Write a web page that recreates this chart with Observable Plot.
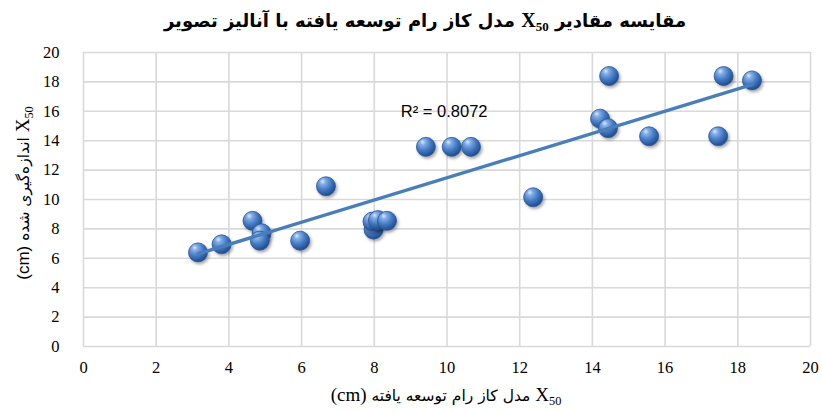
<!DOCTYPE html>
<html>
<head>
<meta charset="utf-8">
<script src="https://cdn.jsdelivr.net/npm/d3@7"></script>
<script src="https://cdn.jsdelivr.net/npm/@observablehq/plot@0.6"></script>
<style>
  html, body { margin: 0; padding: 0; background: #fff; }
  #wrap { position: relative; width: 822px; height: 412px; overflow: hidden; background: #fff; }
  #title { height: 40px; line-height: 40px; padding-left: 28px; text-align: center; direction: rtl;
           font-family: "DejaVu Sans", sans-serif; font-weight: bold; font-size: 18px; color: #000; white-space: nowrap; }
  #title .lat { font-size: 20px; }
  .lat { font-family: "Liberation Serif", serif; }
  .lat sub { font-size: 0.65em; vertical-align: -0.3em; }
  .axlab { position: absolute; text-align: center; direction: rtl; white-space: nowrap; color: #000;
           font-family: "DejaVu Sans", sans-serif; font-size: 15.5px; }
  .axlab .lat { font-size: 19px; }
  #xlab { left: 296px; width: 300px; top: 381px; height: 28px; line-height: 28px; }
  #ylab { left: -127px; top: 179px; width: 300px; height: 28px; line-height: 28px; transform: rotate(-90deg); }
</style>
</head>
<body>
<div id="wrap">
  <div id="title">مقایسه مقادیر <span class="lat">X<sub>50</sub></span> مدل کاز رام توسعه یافته با آنالیز تصویر</div>
  <div id="chart"></div>
  <div id="xlab" class="axlab"><span class="lat">X<sub>50</sub></span> مدل کاز رام توسعه یافته <span class="lat">(cm)</span></div>
  <div id="ylab" class="axlab"><span class="lat">X<sub>50</sub></span> اندازه‌گیری شده <span class="lat" style="font-family:'Liberation Sans',sans-serif;font-size:17px">(cm)</span></div>
</div>
<script>
// X50 from the developed Kuz-Ram model (cm)
const modelX50 = [3.15, 3.80, 4.65, 4.90, 4.85, 5.96, 6.67, 7.98, 7.95, 8.10, 8.35, 9.42, 10.13, 10.66, 12.37, 14.21, 14.43, 14.46, 15.56, 17.46, 17.61, 18.39];
// Measured X50 (cm)
const measuredX50 = [6.40, 6.95, 8.55, 7.70, 7.20, 7.20, 10.90, 7.95, 8.50, 8.60, 8.55, 13.58, 13.58, 13.58, 10.15, 15.50, 14.85, 18.40, 14.30, 14.30, 18.40, 18.10];
const xTicks = [0, 2, 4, 6, 8, 10, 12, 14, 16, 18, 20];
const yTicks = [0, 2, 4, 6, 8, 10, 12, 14, 16, 18, 20];
const r2Text = ["R² = 0.8072"];
const r2Anchor = [{x: 8.73, y: 15.94}];

const data = modelX50.map((x, i) => ({x, y: measuredX50[i]}));

const plot = Plot.plot({
  width: 822,
  height: 372,
  marginTop: 12,
  marginBottom: 66,
  marginLeft: 83,
  marginRight: 12,
  x: {domain: [0, 20]},
  y: {domain: [0, 20]},
  style: {fontSize: "16px", color: "#000", background: "#fff"},
  marks: [
    Plot.gridX(xTicks, {stroke: "#d9d9d9", strokeOpacity: 1, strokeWidth: 1.6}),
    Plot.gridY(yTicks, {stroke: "#d9d9d9", strokeOpacity: 1, strokeWidth: 1.6}),
    Plot.axisX(xTicks, {tickSize: 0, tickPadding: 15, label: null, fontSize: 16.5, fill: "#000"}),
    Plot.axisY(yTicks, {tickSize: 0, tickPadding: 24, label: null, fontSize: 16.5, fill: "#000"}),
    Plot.dot(data, {x: "x", y: "y", r: 9.5, fill: "url(#ball)", stroke: "#2b5797", strokeWidth: 0.8}),
    Plot.linearRegressionY(data, {x: "x", y: "y", ci: 0, stroke: "#4a7ebb", strokeWidth: 3.4}),
    Plot.text(r2Anchor, {x: "x", y: "y", text: () => r2Text[0], textAnchor: "start", fontSize: 16.5, fill: "#000"})
  ]
});

const svg = d3.select(plot);
const defs = svg.insert("defs", ":first-child");
const g = defs.append("radialGradient").attr("id", "ball").attr("cx", "38%").attr("cy", "32%").attr("r", "68%").attr("fx", "32%").attr("fy", "24%");
g.append("stop").attr("offset", "0%").attr("stop-color", "#dbe8fa");
g.append("stop").attr("offset", "22%").attr("stop-color", "#82aee6");
g.append("stop").attr("offset", "60%").attr("stop-color", "#4479c4");
g.append("stop").attr("offset", "100%").attr("stop-color", "#1f4d8c");
const f = defs.append("filter").attr("id", "shadow").attr("x", "-50%").attr("y", "-50%").attr("width", "200%").attr("height", "200%");
f.append("feDropShadow").attr("dx", 1.5).attr("dy", 2).attr("stdDeviation", 1.5).attr("flood-color", "#000").attr("flood-opacity", 0.35);
svg.selectAll("circle").attr("fill", "url(#ball)").attr("filter", "url(#shadow)");
// fonts: serif tick labels (Times-like), sans R² label (Calibri-like)
svg.selectAll("text").each(function () {
  const isR2 = this.textContent === r2Text[0];
  this.style.fontFamily = isR2 ? "'Liberation Sans', sans-serif" : "'Liberation Serif', serif";
});

document.getElementById("chart").appendChild(plot);
</script>
</body>
</html>
